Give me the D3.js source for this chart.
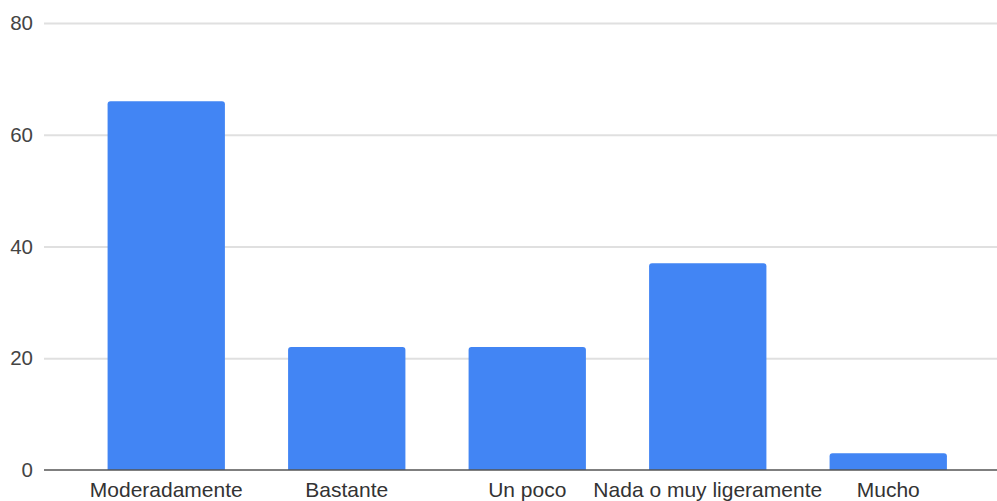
<!DOCTYPE html>
<html>
<head>
<meta charset="utf-8">
<script src="https://cdn.jsdelivr.net/npm/d3@7"></script>
<style>
  html, body { margin: 0; padding: 0; background: #fff; }
  svg { display: block; }
  text { font-family: "Liberation Sans", Arial, sans-serif; }
</style>
</head>
<body>
<svg id="chart" width="997" height="501"></svg>
<script>
const categories = ["Moderadamente", "Bastante", "Un poco", "Nada o muy ligeramente", "Mucho"];
const values = [66, 22, 22, 37, 3];
const yTicks = [0, 20, 40, 60, 80];

const W = 997, H = 501;
const svg = d3.select("#chart");

const x = d3.scaleBand()
  .domain(categories)
  .range([76, 978.5])
  .paddingInner(0.35)
  .paddingOuter(0.175);

const y = d3.scaleLinear()
  .domain([0, 80])
  .range([470, 23]);

// gridlines
const grid = svg.append("g")
  .attr("transform", "translate(44,0)")
  .call(d3.axisLeft(y).tickValues(yTicks.filter(t => t !== 0)).tickSize(-(W - 44)).tickFormat(""));
grid.select(".domain").remove();
grid.selectAll("line").attr("stroke", "#e0e0e0").attr("stroke-width", 2);

// tick labels
const yAxis = svg.append("g")
  .attr("transform", "translate(33,0)")
  .call(d3.axisLeft(y).tickValues(yTicks).tickSize(0).tickPadding(0));
yAxis.select(".domain").remove();
yAxis.selectAll("text")
  .attr("font-size", 20.5)
  .attr("fill", "#444")
  .attr("font-family", "'Liberation Sans', Arial, sans-serif");

// bars with rounded top corners
const r = 3;
svg.append("g").selectAll("path")
  .data(categories.map((c, i) => ({c, v: values[i]})))
  .join("path")
  .attr("fill", "#4285f4")
  .attr("d", d => {
    const x0 = x(d.c), x1 = x0 + x.bandwidth();
    const yt = y(d.v), yb = y(0);
    return `M${x0},${yb} L${x0},${yt + r} Q${x0},${yt} ${x0 + r},${yt} L${x1 - r},${yt} Q${x1},${yt} ${x1},${yt + r} L${x1},${yb} Z`;
  });

// baseline
svg.append("line")
  .attr("x1", 44).attr("x2", W)
  .attr("y1", y(0)).attr("y2", y(0))
  .attr("stroke", "#555").attr("stroke-width", 1.5);

// category labels
const xAxis = svg.append("g")
  .attr("transform", "translate(0,470)")
  .call(d3.axisBottom(x).tickSize(0).tickPadding(0));
xAxis.select(".domain").remove();
xAxis.selectAll("text")
  .attr("dy", null)
  .attr("y", 27)
  .attr("font-size", 21)
  .attr("fill", "#333")
  .attr("font-family", "'Liberation Sans', Arial, sans-serif");
</script>
</body>
</html>
